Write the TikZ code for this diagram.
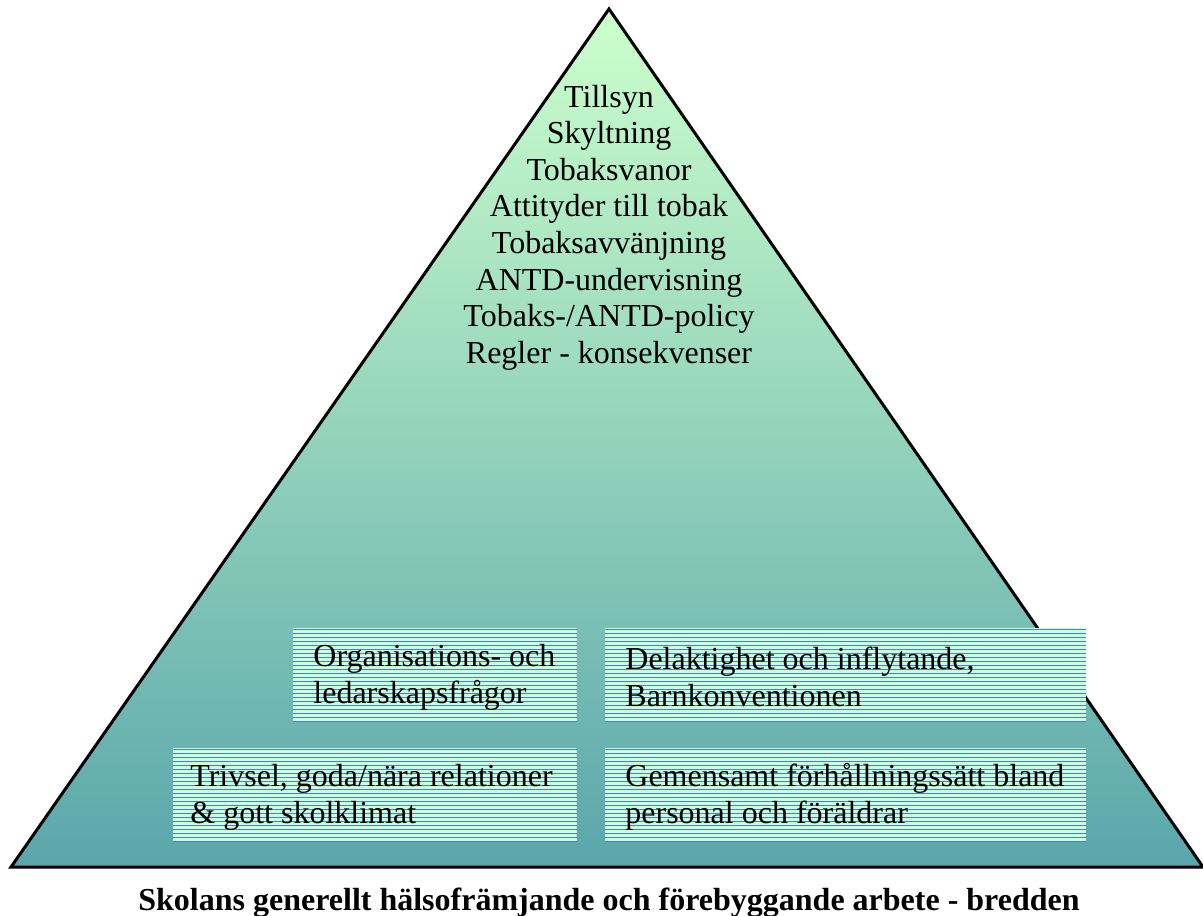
\documentclass[tikz,border=0pt]{standalone}
\usepackage{fontspec}
\setmainfont{Liberation Serif}
\usepackage{tikz}
\definecolor{pyrtop}{RGB}{204,255,204}
\definecolor{pyrbottom}{RGB}{90,166,171}
\definecolor{boxgreen}{RGB}{204,255,204}
\definecolor{stripeblue}{RGB}{70,125,225}

\begin{document}
\begin{tikzpicture}[x=0.5pt,y=-0.5pt,
    pyramid/.style={draw=black,line width=1.5pt,top color=pyrtop,bottom color=pyrbottom},
    topic/.style={font=\fontsize{16}{18}\selectfont,anchor=base,inner sep=0pt},
    area/.style={anchor=north west,fill=boxgreen,inner sep=0pt,outer sep=0pt,
        path picture={
            \foreach \k in {0,...,24}
                \draw[stripeblue,line width=0.5pt]
                    ([yshift=-\k*2pt-0.75pt]path picture bounding box.north west) --
                    ([yshift=-\k*2pt-0.75pt]path picture bounding box.north east);
        }},
    areatext/.style={anchor=west,align=left,inner sep=0pt,font=\fontsize{16}{18.5}\selectfont},
    caption/.style={font=\fontsize{16}{18}\selectfont\bfseries,anchor=base,inner sep=0pt}
]
\useasboundingbox (0,0) rectangle (1203,915);

% pyramid
\coordinate (apex) at (609,9);
\coordinate (baseL) at (11,867);
\coordinate (baseR) at (1203,867);
\draw[pyramid] (apex) -- (baseR) -- (baseL) -- cycle;

% tobacco topics at the top
\foreach \t [count=\i] in {Tillsyn,Skyltning,Tobaksvanor,Attityder till tobak,
    Tobaksavvänjning,ANTD-undervisning,Tobaks-/ANTD-policy,Regler - konsekvenser}
    \node[topic] (topic\i) at (609,{107+36.6*(\i-1)}) {\t};

% base areas
\node[area,minimum width=142pt,minimum height=47pt] (org) at (293,628) {};
\node[area,minimum width=240.5pt,minimum height=47pt] (del) at (605,628) {};
\node[area,minimum width=202pt,minimum height=47pt] (triv) at (173,748) {};
\node[area,minimum width=240.5pt,minimum height=47pt] (gem) at (605,748) {};

\node[areatext] (orgtext) at ([xshift=10pt,yshift=-1pt]org.west)
    {Organisations- och\\ledarskapsfrågor};
\node[areatext] (deltext) at ([xshift=10pt,yshift=-1pt]del.west)
    {Delaktighet och inflytande,\\Barnkonventionen};
\node[areatext] (trivtext) at ([xshift=8.5pt,yshift=-1pt]triv.west)
    {Trivsel, goda/nära relationer\\\& gott skolklimat};
\node[areatext] (gemtext) at ([xshift=10pt,yshift=-1pt]gem.west)
    {Gemensamt förhållningssätt bland\\personal och föräldrar};

\node[caption] (title) at (609,910)
    {Skolans generellt hälsofrämjande och förebyggande arbete - bredden};
\end{tikzpicture}
\end{document}
